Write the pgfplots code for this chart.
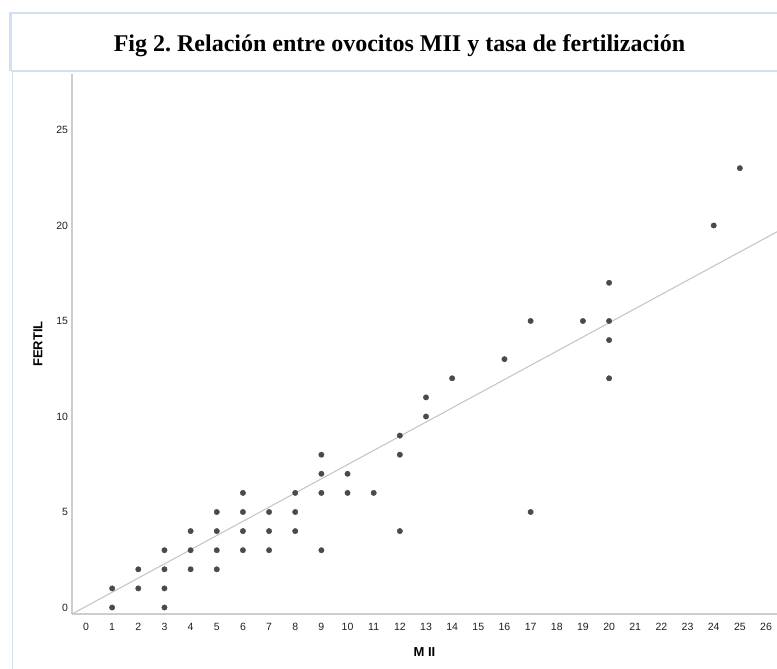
\documentclass[border=0pt]{standalone}
\usepackage{fontspec}
\setmainfont{Liberation Sans}
\newfontfamily\titlefont{Liberation Serif}
\usepackage{pgfplots}
\pgfplotsset{compat=1.18}

\definecolor{frameblue}{HTML}{CFE1F3}
\definecolor{axisgray}{HTML}{CDCDCD}
\definecolor{fitgray}{HTML}{C2C2C2}
\definecolor{dotgray}{HTML}{4A4A4A}
\definecolor{labelgray}{HTML}{1E1E1E}

\begin{document}
\frenchspacing
\begin{tikzpicture}[x=1pt,y=1pt]
\useasboundingbox (0,0) rectangle (777,-669);
\clip (0,0) rectangle (777,-669);

% title panel and frame
\draw[frameblue, line width=2.4pt] (10.5,-71) -- (10.5,-13) -- (800,-13);
\draw[frameblue, line width=2.4pt] (10.5,-71) -- (800,-71);
\draw[frameblue, line width=0.9pt] (12.5,-72) -- (12.5,-680);
\node[anchor=base, inner sep=0pt, font=\titlefont\bfseries\fontsize{24}{28}\selectfont]
  at (399.5,-52) {Fig 2. Relación entre ovocitos MII y tasa de fertilización};

\begin{axis}[
  at={(72pt,-614pt)}, anchor=south west,
  scale only axis, width=705pt, height=540pt,
  xmin=-0.535, xmax=26.42, ymin=-0.34, ymax=27.93,
  axis lines=left,
  axis line style={draw=axisgray, line width=2.6pt, -},
  major tick length=0pt,
  xtick={0,...,26}, ytick={0,5,...,25},
  /pgf/number format/assume math mode=true,
  tick label style={font=\fontsize{10.5}{12}\selectfont, text=labelgray},
  xticklabel style={yshift=-6pt},
  yticklabel style={xshift=-0.5pt},
  xlabel={\textbf{M II}},
  ylabel={\textbf{FERTIL}},
  label style={font=\fontsize{13}{15}\selectfont},
  xlabel style={at={(axis description cs:0.5,-0.0704)}, anchor=center},
  ylabel style={at={(axis description cs:-0.0482,0.5)}, anchor=center},
  clip=true,
]
% least-squares fit line, drawn across the plotting area
\addplot[fitgray, line width=1pt, no marks] coordinates {(-0.535,-0.34) (26.42,19.67)};

\addplot[only marks, mark=*, mark size=2.7pt, mark options={fill=dotgray, draw=dotgray}]
  table {
x y
1 0
1 1
2 1
2 2
3 0
3 1
3 2
3 3
4 2
4 3
4 4
5 2
5 3
5 4
5 5
6 3
6 4
6 5
6 6
7 3
7 4
7 5
8 4
8 5
8 6
9 3
9 6
9 7
9 8
10 6
10 7
11 6
12 4
12 8
12 9
13 10
13 11
14 12
16 13
17 5
17 15
19 15
20 12
20 14
20 15
20 17
24 20
25 23
};
\end{axis}
\end{tikzpicture}
\end{document}
